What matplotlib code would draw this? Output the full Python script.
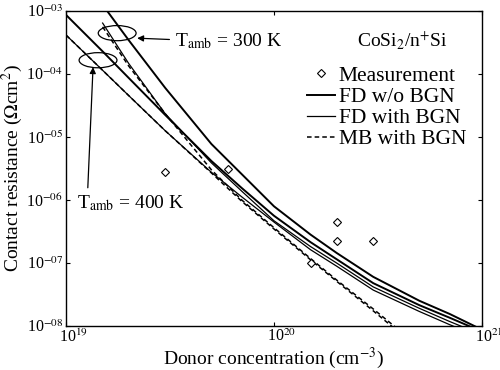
import matplotlib
matplotlib.use('Agg')
import matplotlib.pyplot as plt
import numpy as np
from matplotlib.patches import Ellipse
from matplotlib.lines import Line2D
from matplotlib.ticker import NullLocator
from matplotlib.transforms import ScaledTranslation

plt.rcParams['font.family'] = ['Liberation Serif', 'DejaVu Serif']
plt.rcParams['mathtext.fontset'] = 'stix'

# ---- data (donor concentration in cm^-3, contact resistance as log10(Ohm cm^2)) ----
x_full = [1e19, 1.5e19, 2e19, 3e19, 5e19, 7e19, 1e20, 1.5e20, 2e20, 3e20, 5e20, 7e20, 1e21]
x_300 = [1.5e19, 2e19, 3e19, 5e19, 7e19, 1e20, 1.5e20, 2e20, 3e20, 5e20, 7e20, 1e21]
x_mb400 = [1e19, 1.5e19, 2e19, 3e19, 5e19, 7e19, 1e20, 1.5e20, 2e20, 3e20, 5e20]
x_mb300 = [1.5e19, 2e19, 3e19, 5e19, 7e19, 1e20, 1.5e20, 2e20, 3e20, 5e20]

# T = 300 K
fd_wo_300 = [-2.90, -3.46, -4.22, -5.11, -5.59, -6.10, -6.55, -6.84, -7.22, -7.60, -7.81, -8.06]
fd_with_300 = [-3.19, -3.83, -4.63, -5.41, -5.86, -6.33, -6.74, -7.00, -7.38, -7.72, -7.93, -8.14]
mb_with_300 = [-3.25, -3.87, -4.63, -5.52, -6.00, -6.44, -6.93, -7.27, -7.73, -8.33]
# T = 400 K
fd_wo_400 = [-3.06, -3.64, -4.06, -4.65, -5.38, -5.81, -6.25, -6.67, -6.94, -7.32, -7.67, -7.87, -8.09]
fd_with_400 = [-3.38, -3.94, -4.34, -4.90, -5.56, -5.95, -6.35, -6.79, -7.05, -7.43, -7.77, -7.98, -8.19]
mb_with_400 = [-3.38, -3.94, -4.34, -4.90, -5.57, -6.02, -6.46, -6.95, -7.29, -7.76, -8.37]

# measurements
meas_x = [3e19, 6e19, 1.5e20, 2e20, 2e20, 3e20]
meas_y = [2.8e-6, 3.1e-6, 1.0e-7, 4.4e-7, 2.2e-7, 2.2e-7]

x_ticks = [1e19, 1e20, 1e21]
x_tick_labels = ['10$^{19}$', '10$^{20}$', '10$^{21}$']
y_ticks = [1e-8, 1e-7, 1e-6, 1e-5, 1e-4, 1e-3]
y_tick_labels = ['10$^{-08}$', '10$^{-07}$', '10$^{-06}$', '10$^{-05}$', '10$^{-04}$', '10$^{-03}$']

fig = plt.figure(figsize=(5, 3.7), dpi=100)
ax = fig.add_axes([0.132, 0.119, 0.832, 0.851])
ax.set_xscale('log')
ax.set_yscale('log')

lw_thick, lw_thin, lw_dash = 1.4, 0.9, 1.1
def p(v):
    return 10.0 ** np.asarray(v)

ax.plot(x_300, p(fd_wo_300), color='black', lw=lw_thick)
ax.plot(x_300, p(fd_with_300), color='black', lw=lw_thin)
ax.plot(x_mb300, p(mb_with_300), color='black', lw=lw_dash, dashes=(3, 2))
ax.plot(x_full, p(fd_wo_400), color='black', lw=lw_thick)
ax.plot(x_full, p(fd_with_400), color='black', lw=lw_thin)
ax.plot(x_mb400, p(mb_with_400), color='black', lw=lw_dash, dashes=(3, 2))
ax.plot(meas_x, meas_y, ls='none', marker='D', markersize=4.5, mfc='white', mec='black', mew=0.8)

ax.set_xlim(1e19, 1e21)
ax.set_ylim(1e-8, 1e-3)
ax.set_xticks(x_ticks)
ax.set_xticklabels(x_tick_labels)
ax.set_yticks(y_ticks)
ax.set_yticklabels(y_tick_labels)
ax.xaxis.set_minor_locator(NullLocator())
ax.yaxis.set_minor_locator(NullLocator())
ax.tick_params(which='major', direction='in', length=3, width=0.8, top=True, right=True,
               labelsize=11.5, pad=2)
shift = ScaledTranslation(-7 / 100, 0, fig.dpi_scale_trans)
for lab in ax.get_xticklabels():
    lab.set_horizontalalignment('left')
    lab.set_transform(lab.get_transform() + shift)
for s in ax.spines.values():
    s.set_linewidth(1.0)

ax.set_xlabel('Donor concentration (cm$^{-3}$)', fontsize=14, labelpad=0)
ax.set_ylabel('Contact resistance ($\\Omega$cm$^2$)', fontsize=14, labelpad=1)

# ellipses and annotations
ax.add_patch(Ellipse((0.123, 0.930), 0.091, 0.048, transform=ax.transAxes,
                     fill=False, ec='black', lw=0.9))
ax.add_patch(Ellipse((0.077, 0.844), 0.091, 0.048, transform=ax.transAxes,
                     fill=False, ec='black', lw=0.9))
arrow = dict(arrowstyle='-|>', color='black', lw=0.9, mutation_scale=9, shrinkA=2, shrinkB=0)
ax.annotate('T$_{\\rm amb}$ = 300 K', xy=(0.171, 0.914), xycoords='axes fraction',
            xytext=(0.262, 0.906), textcoords='axes fraction', ha='left', va='center',
            fontsize=14, arrowprops=dict(arrow, relpos=(0, 0.55)))
ax.annotate('T$_{\\rm amb}$ = 400 K', xy=(0.065, 0.822), xycoords='axes fraction',
            xytext=(0.026, 0.39), textcoords='axes fraction', ha='left', va='center',
            fontsize=14, arrowprops=dict(arrow, relpos=(0.1, 1.0)))

# legend
ax.text(0.70, 0.905, 'CoSi$_2$/n$^{+}$Si', transform=ax.transAxes, fontsize=14,
        ha='left', va='center')
handles = [
    Line2D([], [], ls='none', marker='D', markersize=4, mfc='white', mec='black', mew=0.8),
    Line2D([], [], color='black', lw=lw_thick),
    Line2D([], [], color='black', lw=lw_thin),
    Line2D([], [], color='black', lw=lw_dash, dashes=(3, 2)),
]
labels = ['Measurement', 'FD w/o BGN', 'FD with BGN', 'MB with BGN']
ax.legend(handles, labels, loc='upper right', bbox_to_anchor=(0.988, 0.86), frameon=False,
          fontsize=15.5, handlelength=1.3, handletextpad=0.2, labelspacing=0.05,
          borderpad=0.2, borderaxespad=0.3)

fig.savefig('out.png', dpi=100)
